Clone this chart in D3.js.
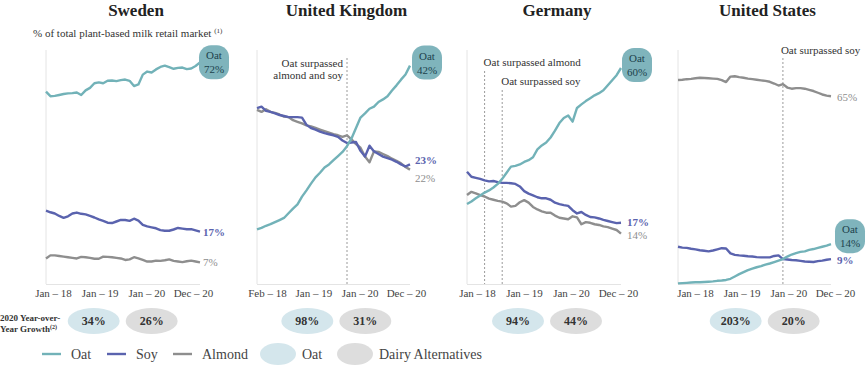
<!DOCTYPE html>
<html>
<head>
<meta charset="utf-8">
<script src="https://cdn.jsdelivr.net/npm/d3@7/dist/d3.min.js"></script>
<style>
  html, body { margin: 0; padding: 0; background: #fff; }
  svg { display: block; }
  svg text { font-family: "Liberation Serif", "DejaVu Serif", serif; }
</style>
</head>
<body>
<svg id="chart" width="866" height="366" font-family="Liberation Serif"></svg>
<script>
// ---------------- DATA ----------------
const countries = ["Sweden", "United Kingdom", "Germany", "United States"];

const swedenOat = [62.5,61.0,61.1,61.4,61.7,61.9,62.0,62.2,61.4,62.9,63.7,65.2,65.5,65.2,66.0,66.1,65.9,66.2,66.4,66.0,64.3,64.8,68.0,69.0,68.7,69.7,70.5,70.9,70.4,69.9,70.2,70.3,69.8,70.0,70.8,72.0];
const swedenSoy = [23.8,23.3,22.9,22.1,21.5,22.0,22.9,23.2,22.8,22.6,22.1,21.6,21.0,20.5,19.9,19.8,20.3,20.8,20.8,20.5,21.2,20.6,19.2,18.7,18.4,18.1,17.5,17.3,17.3,17.7,18.2,18.0,17.8,17.8,17.4,17.0];
const swedenAlmond = [8.3,9.3,9.3,9.1,8.9,8.7,8.5,8.3,8.8,8.7,8.5,8.2,8.2,8.9,8.8,8.7,8.5,8.3,7.8,8.0,8.7,8.3,7.8,7.3,7.3,7.6,7.5,7.7,8.0,7.5,7.3,7.1,7.4,7.6,7.3,7.0];

const ukOat = [10.5,10.8,11.2,11.5,11.9,12.3,12.7,13.6,14.5,15.3,16.8,18.0,19.3,20.5,21.4,22.4,23.0,23.8,24.6,25.4,26.5,28.0,30.0,32.0,32.8,33.7,34.1,35.0,35.5,36.1,37.2,38.2,39.3,40.3,42.0];
const ukSoy = [33.8,34.1,33.3,33.1,32.8,32.5,32.3,32.1,32.1,32.1,32.0,30.6,30.0,29.7,29.3,29.0,28.8,28.6,28.3,27.6,27.1,27.2,27.3,25.6,24.5,26.6,25.5,25.0,24.5,24.2,23.9,23.5,23.0,22.6,23.0];
const ukAlmond = [33.5,33.1,33.6,33.1,32.9,32.6,32.2,32.1,31.5,31.2,30.9,30.5,30.3,30.0,29.7,29.4,29.1,28.8,28.6,28.3,28.6,27.8,26.9,26.2,24.5,23.4,25.5,25.4,25.0,24.6,24.1,23.7,23.2,22.5,22.0];

const germanyOat = [22.2,22.9,23.8,24.6,25.4,26.0,26.8,27.8,29.2,30.9,32.6,32.8,33.2,33.9,34.4,35.2,37.4,38.5,39.3,40.7,42.6,44.7,46.1,46.8,45.1,48.9,49.9,50.8,51.6,52.4,53.0,53.8,55.2,56.6,58.0,60.0];
const germanySoy = [31.2,29.8,29.5,29.2,28.8,28.5,28.6,28.3,28.1,28.1,28.0,27.8,27.1,25.8,25.1,24.6,24.1,23.8,23.8,23.4,22.6,22.2,21.9,21.7,20.5,19.6,20.0,19.2,18.6,18.5,18.2,17.8,17.5,17.2,16.9,17.0];
const germanyAlmond = [24.7,25.6,25.2,24.7,24.3,23.7,23.4,23.1,22.9,22.4,21.5,21.7,22.7,23.3,22.6,21.4,20.7,20.2,19.8,19.8,19.0,18.4,18.2,18.0,18.8,18.5,16.6,17.2,17.0,16.6,16.4,16.0,15.8,15.4,15.0,14.0];

const usOat = [0.2,0.3,0.4,0.5,0.6,0.6,0.7,0.8,0.9,1.1,1.2,1.4,1.8,2.6,3.4,4.1,4.8,5.3,5.8,6.2,6.7,7.1,7.6,8.1,8.6,9.5,10.2,10.7,11.1,11.3,11.8,12.1,12.5,12.9,13.3,13.8];
const usSoy = [12.9,12.6,12.5,12.2,12.0,11.7,11.5,11.3,11.6,12.0,12.4,12.3,10.6,10.1,9.9,9.8,9.6,9.5,9.3,9.2,9.2,9.2,9.7,9.9,8.6,8.5,8.3,8.2,8.0,7.8,7.7,7.6,7.9,8.1,8.4,8.6];
const usAlmond = [70.6,70.7,70.9,71.0,71.2,71.4,71.3,71.2,71.1,71.0,70.6,69.9,71.8,71.9,71.6,71.4,71.1,70.9,70.7,70.5,70.3,70.0,69.4,68.7,69.2,68.0,67.6,67.8,67.8,67.6,67.2,66.8,66.2,65.6,65.2,65.0];

const tickLabelsJan = ["Jan – 18", "Jan – 19", "Jan – 20", "Dec – 20"];
const tickLabelsFeb = ["Feb – 18", "Jan – 19", "Jan – 20", "Dec – 20"];

const endLabelsOat = ["72%", "42%", "60%", "14%"];
const endLabelsSoy = ["17%", "23%", "17%", "9%"];
const endLabelsAlmond = ["7%", "22%", "14%", "65%"];

// month index where oat surpassed, with the annotation text
const ukEvents = [{ month: 20, lines: ["Oat surpassed", "almond and soy"] }];
const germanyEvents = [{ month: 4, lines: ["Oat surpassed almond"] }, { month: 8, lines: ["Oat surpassed soy"] }];
const usEvents = [{ month: 24, lines: ["Oat surpassed soy"] }];
const swedenEvents = [];

const growthOat = ["34%", "98%", "94%", "203%"];
const growthDairy = ["26%", "31%", "44%", "20%"];

const legendLines = ["Oat", "Soy", "Almond"];
const legendBubbles = ["Oat", "Dairy Alternatives"];

// ---------------- LAYOUT / STYLE ----------------
const FONT = "Liberation Serif";
const C = {
  oat: "#72b2b8", soy: "#5a63ae", almond: "#8e8e8e",
  badge: "#7fb4bc", badgeText: "#20424c",
  bubbleOat: "#d4e6ec", bubbleDairy: "#dddddd",
  text: "#333", axis: "#e4e4e4", dash: "#9a9a9a"
};

const panels = [
  { name: countries[0], oat: swedenOat, soy: swedenSoy, almond: swedenAlmond, x0: 46, x1: 200, yMax: 76, ticks: tickLabelsJan, tickRange: [53, 193], events: swedenEvents, soyDy: 0, almDy: 0, lblDx: 3, bdx: 14, bdy: 0 },
  { name: countries[1], oat: ukOat, soy: ukSoy, almond: ukAlmond, x0: 257, x1: 410, yMax: 45, ticks: tickLabelsFeb, tickRange: [267, 406], events: ukEvents, soyDy: -4, almDy: 8, lblDx: 5, bdx: 17, bdy: -3 },
  { name: countries[2], oat: germanyOat, soy: germanySoy, almond: germanyAlmond, x0: 467, x1: 621, yMax: 65, ticks: tickLabelsJan, tickRange: [477, 618], events: germanyEvents, soyDy: -1, almDy: 1, lblDx: 6, bdx: 16, bdy: -3 },
  { name: countries[3], oat: usOat, soy: usSoy, almond: usAlmond, x0: 678, x1: 831, yMax: 81, ticks: tickLabelsJan, tickRange: [695, 835], events: usEvents, soyDy: 1, almDy: 1, lblDx: 6, bdx: 19, bdy: -8 }
];

const yTop = 50, yBase = 284;
const svg = d3.select("#chart");

panels.forEach((p, pi) => {
  const n = p.oat.length;
  const x = d3.scaleLinear().domain([0, n - 1]).range([p.x0, p.x1]);
  const y = d3.scaleLinear().domain([0, p.yMax]).range([yBase, yTop]);
  const g = svg.append("g");

  // title
  g.append("text").attr("x", (p.x0 + p.x1) / 2 + 13).attr("y", 16)
    .attr("text-anchor", "middle").attr("font-weight", "bold").attr("font-size", 17)
    .attr("fill", "#222").text(p.name);

  // axes (light)
  g.append("line").attr("x1", p.x0).attr("x2", p.x0).attr("y1", yTop).attr("y2", yBase)
    .attr("stroke", C.axis).attr("stroke-width", 1);
  g.append("line").attr("x1", p.x0).attr("x2", p.x1).attr("y1", yBase + 0.5).attr("y2", yBase + 0.5)
    .attr("stroke", C.axis).attr("stroke-width", 1);

  // tick labels via point scale + axis
  const xt = d3.scalePoint().domain(p.ticks).range(p.tickRange);
  const ax = g.append("g").attr("transform", `translate(0,${yBase})`)
    .call(d3.axisBottom(xt).tickSize(0).tickPadding(5));
  ax.attr("font-family", FONT).attr("font-size", 11);
  ax.select(".domain").remove();
  ax.selectAll("text").attr("font-family", FONT).attr("font-size", 11).attr("fill", "#444");

  // event dashed lines + annotations
  p.events.forEach((ev, ei) => {
    const ex = x(ev.month);
    let top;
    if (pi === 1) top = 58;
    else if (pi === 2) top = ei === 0 ? 71 : 90;
    else top = 58;
    g.append("line").attr("x1", ex).attr("x2", ex).attr("y1", top).attr("y2", yBase)
      .attr("stroke", C.dash).attr("stroke-width", 1).attr("stroke-dasharray", "2,2");
    ev.lines.forEach((t, li) => {
      let tx, ty, anchor;
      if (pi === 1) { tx = ex - 4; ty = 67 + li * 12; anchor = "end"; }
      else if (pi === 2) { tx = ex - 1; ty = ei === 0 ? 66 : 85; anchor = "start"; }
      else { tx = ex - 2; ty = 54; anchor = "start"; }
      g.append("text").attr("x", tx).attr("y", ty).attr("text-anchor", anchor)
        .attr("font-family", FONT).attr("font-size", 11).attr("fill", C.text).text(t);
    });
  });

  const line = d3.line().x((d, i) => x(i)).y(d => y(d));
  [["almond", C.almond], ["soy", C.soy], ["oat", C.oat]].forEach(([k, col]) => {
    g.append("path").datum(p[k]).attr("d", line).attr("fill", "none")
      .attr("stroke", col).attr("stroke-width", 2.4).attr("stroke-linejoin", "round");
  });

  // end labels
  const last = n - 1;
  g.append("text").attr("x", x(last) + p.lblDx).attr("y", y(p.soy[last]) + 4 + p.soyDy)
    .attr("font-family", FONT).attr("font-size", 11).attr("fill", C.soy).attr("font-weight", "bold").text(endLabelsSoy[pi]);
  g.append("text").attr("x", x(last) + p.lblDx).attr("y", y(p.almond[last]) + 4 + p.almDy)
    .attr("font-family", FONT).attr("font-size", 11).attr("fill", C.almond).text(endLabelsAlmond[pi]);

  // oat badge
  const bx = x(last) + p.bdx, by = y(p.oat[last]) + p.bdy;
  g.append("rect").attr("x", bx - 15).attr("y", by - 17).attr("width", 30).attr("height", 34)
    .attr("rx", 12).attr("ry", 12).attr("fill", C.badge);
  g.append("text").attr("x", bx).attr("y", by - 3).attr("text-anchor", "middle")
    .attr("font-family", FONT).attr("font-size", 11).attr("fill", C.badgeText).text("Oat");
  g.append("text").attr("x", bx).attr("y", by + 11).attr("text-anchor", "middle")
    .attr("font-family", FONT).attr("font-size", 11).attr("fill", C.badgeText).text(endLabelsOat[pi]);

  // growth bubbles
  const gx = xt(p.ticks[1]) - 6;
  [[growthOat[pi], C.bubbleOat, 0], [growthDairy[pi], C.bubbleDairy, 58]].forEach(([t, col, off]) => {
    svg.append("ellipse").attr("cx", gx + off).attr("cy", 321).attr("rx", 26).attr("ry", 13).attr("fill", col);
    svg.append("text").attr("x", gx + off).attr("y", 325).attr("text-anchor", "middle")
      .attr("font-family", FONT).attr("font-size", 12).attr("font-weight", "bold").attr("fill", C.text).text(t);
  });
});

// subtitle
const sub = svg.append("text").attr("x", 33).attr("y", 37).attr("font-family", FONT).attr("font-size", 11).attr("fill", C.text);
sub.append("tspan").text("% of total plant-based milk retail market ");
sub.append("tspan").attr("font-size", 7).attr("dy", -4).text("(1)");

// growth row label
const gl = svg.append("g").attr("font-family", FONT).attr("font-size", 9).attr("font-weight", "bold").attr("fill", C.text);
gl.append("text").attr("x", 0).attr("y", 321).text("2020 Year-over-");
const gl2 = gl.append("text").attr("x", 0).attr("y", 332);
gl2.append("tspan").text("Year Growth");
gl2.append("tspan").attr("font-size", 6).attr("dy", -3).text("(2)");

// legend
const lg = svg.append("g").attr("font-family", FONT).attr("font-size", 14).attr("fill", "#444");
const lineCols = [C.oat, C.soy, C.almond];
const lineX = [42, 107, 173];
legendLines.forEach((t, i) => {
  lg.append("line").attr("x1", lineX[i]).attr("x2", lineX[i] + 19).attr("y1", 354).attr("y2", 354)
    .attr("stroke", lineCols[i]).attr("stroke-width", 2.4);
  lg.append("text").attr("x", lineX[i] + 29).attr("y", 358.5).text(t);
});
const bubCols = [C.bubbleOat, C.bubbleDairy];
const bubX = [278, 355];
legendBubbles.forEach((t, i) => {
  lg.append("ellipse").attr("cx", bubX[i]).attr("cy", 354).attr("rx", 18).attr("ry", 11).attr("fill", bubCols[i]);
  lg.append("text").attr("x", bubX[i] + 24).attr("y", 358.5).text(t);
});
</script>
</body>
</html>
